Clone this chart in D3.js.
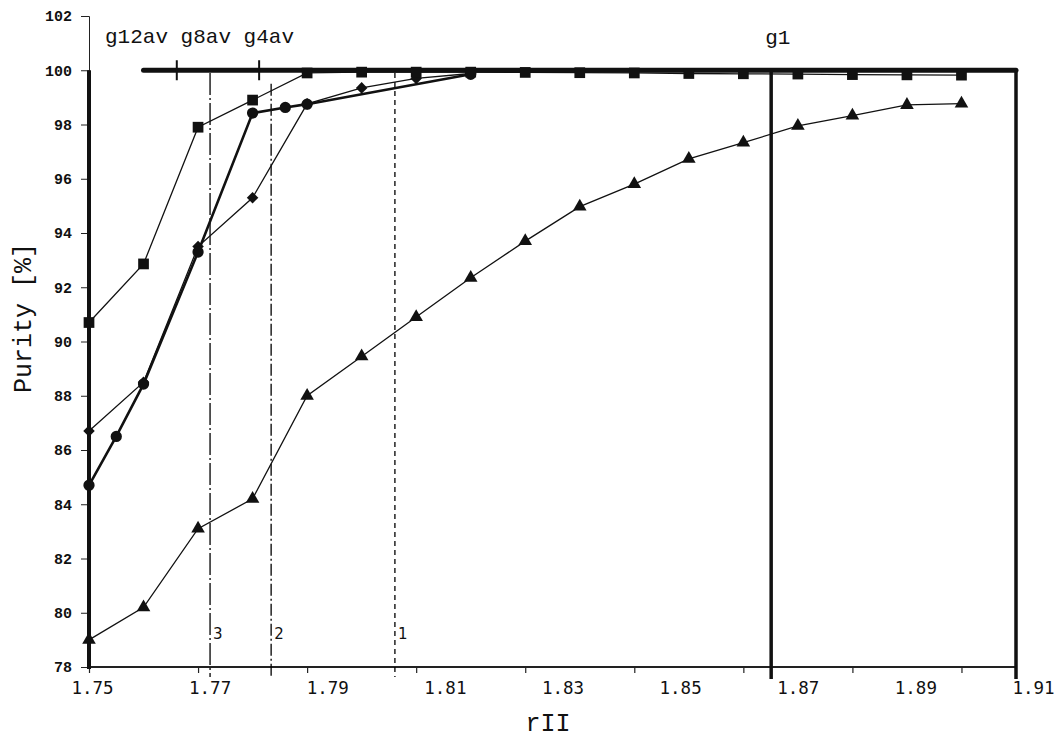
<!DOCTYPE html>
<html>
<head>
<meta charset="utf-8">
<script src="https://cdn.jsdelivr.net/npm/d3@7"></script>
<style>
  body { margin: 0; background: white; }
  svg { display: block; }
</style>
</head>
<body>
<div id="wrapper"></div>
<script>
// rII steps of the measured runs
const rSteps = [1.75, 1.76, 1.77, 1.78, 1.79, 1.80, 1.81, 1.82, 1.83, 1.84, 1.85, 1.86, 1.87, 1.88, 1.89, 1.90, 1.91];

// squares
const puritySquare = [90.7, 92.86, 97.9, 98.9, 99.9, 99.93, 99.93, 99.93, 99.92, 99.91, 99.9, 99.88, 99.87, 99.86, 99.84, 99.83, 99.82];
// triangles
const purityTriangle = [79.0, 80.2, 83.1, 84.2, 88.0, 89.45, 90.9, 92.35, 93.7, 94.97, 95.8, 96.73, 97.33, 97.95, 98.33, 98.72, 98.77];
// diamonds
const rDiamond = [1.75, 1.76, 1.77, 1.78, 1.79, 1.80, 1.81, 1.82];
const purityDiamond = [86.7, 88.5, 93.5, 95.3, 98.76, 99.35, 99.7, 99.88];
// circles (bold line)
const rCircle = [1.75, 1.755, 1.76, 1.77, 1.78, 1.786, 1.79, 1.82];
const purityCircle = [84.7, 86.5, 88.43, 93.3, 98.42, 98.63, 98.75, 99.85];

// cut positions 1, 2, 3 and the g1 limit
const cutR = [1.8061, 1.7834, 1.7722];
const cutLabels = ["1", "2", "3"];
const g1R = 1.8751;
const avMarksR = [1.7661, 1.7812];
const limitPurity = 100;
const limitStartR = 1.76;

const xTickValues = [1.75, 1.77, 1.79, 1.81, 1.83, 1.85, 1.87, 1.89, 1.91];
const xTickLabels = ["1.75", "1.77", "1.79", "1.81", "1.83", "1.85", "1.87", "1.89", "1.91"];
const yTickValues = [78, 80, 82, 84, 86, 88, 90, 92, 94, 96, 98, 100, 102];

const width = 1061, height = 746;

const svg = d3.select("#wrapper")
  .append("svg")
  .attr("width", width)
  .attr("height", height);

const x = d3.scaleLinear().domain([1.75, 1.92]).range([89, 1016]);
const y = d3.scaleLinear().domain([78, 102]).range([667, 16]);
// the printed labels are spread evenly along the axis
const xLab = d3.scalePoint().domain(xTickLabels).range([92, 1033]);

const mono = "'Liberation Mono', 'DejaVu Sans Mono', monospace";

// x axis: ticks
svg.append("g")
  .attr("transform", "translate(0," + y(78) + ")")
  .call(d3.axisBottom(x).tickValues(xTickValues).tickSize(6).tickFormat(""))
  .call(g => g.select(".domain").remove())
  .call(g => g.selectAll("line").attr("stroke", "#222").attr("stroke-width", 1.2));

svg.append("line")
  .attr("x1", x(1.75)).attr("x2", x(1.92))
  .attr("y1", y(78)).attr("y2", y(78))
  .attr("stroke", "#222").attr("stroke-width", 2);

// x axis: labels
svg.append("g")
  .attr("transform", "translate(0," + (y(78) + 12) + ")")
  .call(d3.axisBottom(xLab).tickSize(0))
  .call(g => g.select(".domain").remove())
  .call(g => g.selectAll("text")
    .attr("font-family", "'DejaVu Sans Mono', monospace")
    .attr("font-size", 17.5)
    .attr("fill", "#111"));

// y axis
svg.append("g")
  .attr("transform", "translate(" + x(1.75) + ",0)")
  .call(d3.axisLeft(y).tickValues(yTickValues).tickSize(8).tickPadding(9))
  .call(g => g.select(".domain").attr("stroke", "#222").attr("stroke-width", 1))
  .call(g => g.selectAll("line").attr("stroke", "#222"))
  .call(g => g.selectAll("text")
    .attr("font-family", mono)
    .attr("font-weight", "bold")
    .attr("font-size", 15)
    .attr("fill", "#111"));

// heavy frame lines
svg.append("line")
  .attr("x1", x(1.75)).attr("x2", x(1.75))
  .attr("y1", y(limitPurity)).attr("y2", y(78) + 2)
  .attr("stroke", "#111").attr("stroke-width", 4);
svg.append("line")
  .attr("x1", x(1.92)).attr("x2", x(1.92))
  .attr("y1", y(limitPurity)).attr("y2", y(78) + 12)
  .attr("stroke", "#111").attr("stroke-width", 3.5);
svg.append("line")
  .attr("x1", x(g1R)).attr("x2", x(g1R))
  .attr("y1", y(limitPurity)).attr("y2", y(78) + 12)
  .attr("stroke", "#111").attr("stroke-width", 3.5);

// cut lines
const cutDash = ["5,4", "12,3,2,3", "22,3,2,3"];
const cutTop = [y(99.9), y(99.5), y(99.9)];
svg.append("g")
  .selectAll("line")
  .data(cutR)
  .enter()
  .append("line")
  .attr("x1", d => x(d)).attr("x2", d => x(d))
  .attr("y1", (d, i) => cutTop[i])
  .attr("y2", y(78) + 10)
  .attr("stroke", "#000")
  .attr("stroke-width", 1.3)
  .attr("stroke-dasharray", (d, i) => cutDash[i]);

svg.append("g")
  .selectAll("text")
  .data(cutR)
  .enter()
  .append("text")
  .attr("x", d => x(d) + 3)
  .attr("y", y(79.05))
  .attr("font-family", "'DejaVu Sans', sans-serif")
  .attr("font-size", 15)
  .attr("fill", "#111")
  .text((d, i) => cutLabels[i]);

// series lines
const line = d3.line().x(d => x(d[0])).y(d => y(d[1]));
const sq = rSteps.map((r, i) => [r, puritySquare[i]]);
const tri = rSteps.map((r, i) => [r, purityTriangle[i]]);
const dia = rDiamond.map((r, i) => [r, purityDiamond[i]]);
const cir = rCircle.map((r, i) => [r, purityCircle[i]]);

[[tri, 1.3], [dia, 1.3], [sq, 1.3], [cir, 2.6]].forEach(s => {
  svg.append("path")
    .datum(s[0])
    .attr("d", line)
    .attr("fill", "none")
    .attr("stroke", "#111")
    .attr("stroke-width", s[1]);
});

// purity limit line with the averaging marks
svg.append("line")
  .attr("x1", x(limitStartR)).attr("x2", x(1.92))
  .attr("y1", y(limitPurity)).attr("y2", y(limitPurity))
  .attr("stroke", "#111").attr("stroke-width", 5)
  .attr("stroke-linecap", "round");
svg.append("g")
  .selectAll("line")
  .data(avMarksR)
  .enter()
  .append("line")
  .attr("x1", d => x(d)).attr("x2", d => x(d))
  .attr("y1", y(limitPurity) - 10).attr("y2", y(limitPurity) + 10)
  .attr("stroke", "#111").attr("stroke-width", 2);

// markers
function markers(data, type, size){
  svg.append("g")
    .selectAll("path")
    .data(data)
    .enter()
    .append("path")
    .attr("transform", d => "translate(" + x(d[0]) + "," + y(d[1]) + ")")
    .attr("d", d3.symbol().type(type).size(size))
    .attr("fill", "#111");
}
markers(tri, d3.symbolTriangle, 80);
markers(dia, d3.symbolDiamond2, 85);
markers(sq, d3.symbolSquare, 115);
markers(cir, d3.symbolCircle, 100);

// annotations
svg.append("text")
  .attr("x", 105).attr("y", 43)
  .attr("font-family", mono)
  .attr("font-size", 21)
  .attr("fill", "#111")
  .text("g12av g8av g4av");
svg.append("text")
  .attr("x", x(g1R) - 6).attr("y", 44)
  .attr("font-family", mono)
  .attr("font-size", 21)
  .attr("fill", "#111")
  .text("g1");

// axis titles
svg.append("text")
  .attr("x", 548).attr("y", 731)
  .attr("text-anchor", "middle")
  .attr("font-family", mono)
  .attr("font-size", 25)
  .attr("fill", "#111")
  .text("rII");
svg.append("text")
  .attr("transform", "translate(31,318) rotate(-90)")
  .attr("text-anchor", "middle")
  .attr("font-family", mono)
  .attr("font-size", 25)
  .attr("fill", "#111")
  .text("Purity [%]");
</script>
</body>
</html>
